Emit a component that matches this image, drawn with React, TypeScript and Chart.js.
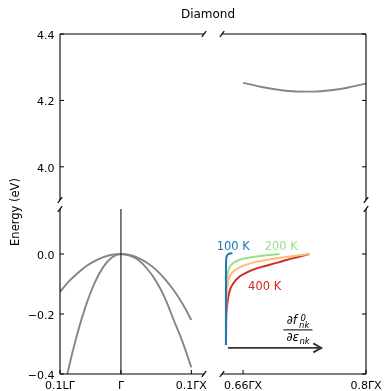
import React, { useEffect, useRef } from 'react';
import { Chart, registerables } from 'chart.js';
Chart.register(...registerables);

const W = 384;
const H = 391;
const FONT = '"DejaVu Sans", "Liberation Sans", sans-serif';

// ---------- data ----------
// valence bands near Γ (k along L–Γ–X, units of 2π/a)
const kValence = [-0.0866, -0.075, -0.0625, -0.05, -0.0375, -0.025, -0.0125, 0, 0.0125, 0.025, 0.0375, 0.05, 0.0625, 0.075, 0.0875, 0.1];
const bandHeavyE = [-0.126, -0.094, -0.066, -0.042, -0.024, -0.0105, -0.0026, 0, -0.0034, -0.0135, -0.030, -0.053, -0.084, -0.121, -0.166, -0.220];
const bandLightE = [-0.517, -0.388, -0.270, -0.173, -0.097, -0.043, -0.011, 0, -0.0055, -0.021, -0.050, -0.091, -0.147, -0.220, -0.293, -0.378];

// conduction band near the X valley
const kConduction = [0.66, 0.68, 0.70, 0.72, 0.74, 0.76, 0.78, 0.80];
const conductionE = [4.253, 4.241, 4.232, 4.227, 4.2265, 4.2305, 4.239, 4.2505];

// sketch of ∂f/∂ε at several temperatures
const k100K = [0.6405, 0.6405, 0.6406, 0.6409, 0.6416, 0.6432, 0.6455, 0.6478];
const e100K = [-0.303, -0.10, -0.03, -0.015, -0.006, 0.0, 0.002, 0.003];
const k200K = [0.6405, 0.6405, 0.6407, 0.6413, 0.6425, 0.645, 0.6507, 0.6564, 0.6639, 0.6714, 0.6865, 0.7016];
const e200K = [-0.303, -0.15, -0.113, -0.088, -0.065, -0.041, -0.027, -0.019, -0.014, -0.010, -0.004, 0.0];
const k300K = [0.6405, 0.6407, 0.6413, 0.6432, 0.647, 0.6564, 0.6677, 0.679, 0.6941, 0.7092, 0.7224, 0.7355];
const e300K = [-0.303, -0.20, -0.136, -0.091, -0.063, -0.044, -0.032, -0.024, -0.016, -0.010, -0.005, 0.0];
const k400K = [0.6405, 0.6407, 0.641, 0.6425, 0.645, 0.6495, 0.6564, 0.6639, 0.6714, 0.6808, 0.6903, 0.7003, 0.7092, 0.7224, 0.7355];
const e400K = [-0.303, -0.25, -0.20, -0.155, -0.12, -0.095, -0.074, -0.062, -0.052, -0.043, -0.036, -0.028, -0.020, -0.010, 0.0];

// ticks
const yTicksTop = [4.4, 4.2, 4.0];
const yTicksBottom = [0.0, -0.2, -0.4];
const xTicksLeft = [-0.0866, 0, 0.1];
const xTickLabelsLeft = ['0.1LΓ', 'Γ', '0.1ΓX'];
const xTicksRight = [0.66, 0.8];
const xTickLabelsRight = ['0.66ΓX', '0.8ΓX'];

const GREY = '#858585';

const toPts = (xs: number[], ys: number[]) => xs.map((x, i) => ({ x, y: ys[i] }));
const fmtY = (v: number) => v.toFixed(1).replace('-', '\u2212');

type Side = 'left' | 'right';
type VSide = 'top' | 'bottom';
type PanelCfg = {
  xMin: number; xMax: number; yMin: number; yMax: number;
  pad: { left: number; top: number; right: number; bottom: number };
  spines: { left?: boolean; right?: boolean; top?: boolean; bottom?: boolean };
  yTicks: number[]; yTickSide: Side; yLabels: boolean;
  xTicks?: number[]; xTickLabels?: string[];
  breaks: [Side, VSide][];
  gammaLine?: number;
  decorate?: (chart: any) => void;
  datasets: any[];
};

function line(ctx: CanvasRenderingContext2D, x1: number, y1: number, x2: number, y2: number) {
  ctx.beginPath();
  ctx.moveTo(x1, y1);
  ctx.lineTo(x2, y2);
  ctx.stroke();
}

function framePlugin(cfg: PanelCfg) {
  return {
    id: 'frame',
    afterDatasetsDraw(chart: any) {
      if (cfg.gammaLine === undefined) return;
      const ctx = chart.ctx as CanvasRenderingContext2D;
      const a = chart.chartArea;
      const x = chart.scales.x.getPixelForValue(cfg.gammaLine);
      ctx.save();
      ctx.strokeStyle = '#000';
      ctx.lineWidth = 1;
      line(ctx, x, a.top, x, a.bottom);
      ctx.restore();
    },
    afterDraw(chart: any) {
      const ctx = chart.ctx as CanvasRenderingContext2D;
      const a = chart.chartArea;
      const xs = chart.scales.x;
      const ys = chart.scales.y;
      ctx.save();
      ctx.strokeStyle = '#000';
      ctx.fillStyle = '#000';
      ctx.lineWidth = 1.1;
      const s = cfg.spines;
      if (s.left) line(ctx, a.left, a.top, a.left, a.bottom);
      if (s.right) line(ctx, a.right, a.top, a.right, a.bottom);
      if (s.top) line(ctx, a.left, a.top, a.right, a.top);
      if (s.bottom) line(ctx, a.left, a.bottom, a.right, a.bottom);

      const TL = 4;
      ctx.lineWidth = 1;
      cfg.yTicks.forEach((v) => {
        const y = ys.getPixelForValue(v);
        if (cfg.yTickSide === 'left') line(ctx, a.left, y, a.left + TL, y);
        else line(ctx, a.right, y, a.right - TL, y);
      });
      (cfg.xTicks || []).forEach((v) => {
        const x = xs.getPixelForValue(v);
        line(ctx, x, a.bottom, x, a.bottom - TL);
      });

      ctx.font = `11px ${FONT}`;
      if (cfg.yLabels) {
        ctx.textAlign = 'right';
        ctx.textBaseline = 'alphabetic';
        cfg.yTicks.forEach((v) => {
          const y = ys.getPixelForValue(v);
          ctx.fillText(fmtY(v), a.left - 5.5, y + 5);
        });
      }
      if (cfg.xTicks && cfg.xTickLabels) {
        ctx.textAlign = 'center';
        ctx.textBaseline = 'alphabetic';
        cfg.xTicks.forEach((v, i) => {
          const x = xs.getPixelForValue(v);
          ctx.fillText(cfg.xTickLabels![i], x, a.bottom + 14.5);
        });
      }

      ctx.lineWidth = 1.2;
      cfg.breaks.forEach(([hs, vs]) => {
        const cx = hs === 'left' ? a.left : a.right;
        const cy = vs === 'top' ? a.top : a.bottom;
        line(ctx, cx - 2.2, cy + 2.8, cx + 2.2, cy - 2.8);
      });
      ctx.restore();
      if (cfg.decorate) cfg.decorate(chart);
    },
  };
}

function decorateTitle(chart: any) {
  const ctx = chart.ctx as CanvasRenderingContext2D;
  ctx.save();
  ctx.fillStyle = '#000';
  ctx.font = `12px ${FONT}`;
  ctx.textAlign = 'center';
  ctx.textBaseline = 'alphabetic';
  ctx.fillText('Diamond', 208, 17.5);
  ctx.translate(16.5, 212);
  ctx.rotate(-Math.PI / 2);
  ctx.textBaseline = 'middle';
  ctx.font = `11.5px ${FONT}`;
  ctx.fillText('Energy (eV)', 0, 0);
  ctx.restore();
}

function decorateInset(chart: any) {
  const ctx = chart.ctx as CanvasRenderingContext2D;
  const xs = chart.scales.x;
  const ys = chart.scales.y;
  ctx.save();
  ctx.font = `11.5px ${FONT}`;
  ctx.textAlign = 'center';
  ctx.textBaseline = 'middle';
  ctx.fillStyle = '#1f77b4';
  ctx.fillText('100 K', xs.getPixelForValue(0.6488), ys.getPixelForValue(0.024));
  ctx.fillStyle = '#98df8a';
  ctx.fillText('200 K', xs.getPixelForValue(0.7035), ys.getPixelForValue(0.024));
  ctx.fillStyle = '#d62728';
  ctx.fillText('400 K', xs.getPixelForValue(0.6846), ys.getPixelForValue(-0.111));

  // arrow
  const ax1 = xs.getPixelForValue(0.6428);
  const ax2 = xs.getPixelForValue(0.7491);
  const ay = ys.getPixelForValue(-0.313);
  ctx.strokeStyle = '#333';
  ctx.lineWidth = 1.8;
  line(ctx, ax1, ay, ax2, ay);
  ctx.beginPath();
  ctx.moveTo(ax2 - 8, ay - 4.5);
  ctx.lineTo(ax2, ay);
  ctx.lineTo(ax2 - 8, ay + 4.5);
  ctx.stroke();

  // fraction ∂f⁰_nk / ∂ε_nk
  const cx = xs.getPixelForValue(0.7225);
  const by = ys.getPixelForValue(-0.253);
  const big = `italic 12px ${FONT}`;
  const small = `italic 8.5px ${FONT}`;
  ctx.fillStyle = '#000';
  ctx.strokeStyle = '#000';
  ctx.textAlign = 'left';
  ctx.textBaseline = 'alphabetic';
  ctx.font = big;
  const wNum = ctx.measureText('\u2202f').width;
  const wDen = ctx.measureText('\u2202\u03b5').width;
  ctx.font = small;
  const wNk = ctx.measureText('nk').width;
  const numW = wNum + 2 + wNk;
  const x0 = cx - numW / 2;
  ctx.font = big;
  ctx.fillText('\u2202f', x0, by - 6);
  ctx.font = small;
  ctx.fillText('0', x0 + wNum + 3.5, by - 8.5);
  ctx.fillText('nk', x0 + wNum + 2, by - 2);
  const denW = wDen + 0.5 + wNk;
  const x1 = cx - denW / 2;
  ctx.font = big;
  ctx.fillText('\u2202\u03b5', x1, by + 11.5);
  ctx.font = small;
  ctx.fillText('nk', x1 + wDen + 0.5, by + 14.5);
  ctx.lineWidth = 1;
  line(ctx, cx - 14.5, by, cx + 14.5, by);
  ctx.restore();
}

const ds = (data: any[], color: string, width: number, mono = false) => ({
  data,
  borderColor: color,
  backgroundColor: color,
  borderWidth: width,
  pointRadius: 0,
  fill: false,
  ...(mono ? { cubicInterpolationMode: 'monotone' } : { tension: 0.4 }),
});

const LEFT_RANGE = { xMin: -0.0866, xMax: 0.118 };
const RIGHT_RANGE = { xMin: 0.636, xMax: 0.8 };
const TOP_RANGE = { yMin: 3.9, yMax: 4.4 };
const BOTTOM_RANGE = { yMin: -0.4, yMax: 0.15 };

const panels: PanelCfg[] = [
  {
    ...LEFT_RANGE, ...TOP_RANGE,
    pad: { left: 60, top: 34, right: W - 204, bottom: H - 200 },
    spines: { left: true, top: true },
    yTicks: yTicksTop, yTickSide: 'left', yLabels: true,
    breaks: [['right', 'top'], ['left', 'bottom']],
    decorate: decorateTitle,
    datasets: [],
  },
  {
    ...RIGHT_RANGE, ...TOP_RANGE,
    pad: { left: 222, top: 34, right: W - 366, bottom: H - 200 },
    spines: { right: true, top: true },
    yTicks: yTicksTop, yTickSide: 'right', yLabels: false,
    breaks: [['left', 'top'], ['right', 'bottom']],
    datasets: [ds(toPts(kConduction, conductionE), GREY, 1.9, true)],
  },
  {
    ...LEFT_RANGE, ...BOTTOM_RANGE,
    pad: { left: 60, top: 209, right: W - 204, bottom: H - 374 },
    spines: { left: true, bottom: true },
    yTicks: yTicksBottom, yTickSide: 'left', yLabels: true,
    xTicks: xTicksLeft, xTickLabels: xTickLabelsLeft,
    breaks: [['left', 'top'], ['right', 'bottom']],
    gammaLine: 0,
    datasets: [
      ds(toPts(kValence, bandHeavyE), GREY, 1.9, true),
      ds(toPts(kValence, bandLightE), GREY, 1.9, true),
    ],
  },
  {
    ...RIGHT_RANGE, ...BOTTOM_RANGE,
    pad: { left: 222, top: 209, right: W - 366, bottom: H - 374 },
    spines: { right: true, bottom: true },
    yTicks: yTicksBottom, yTickSide: 'right', yLabels: false,
    xTicks: xTicksRight, xTickLabels: xTickLabelsRight,
    breaks: [['right', 'top'], ['left', 'bottom']],
    decorate: decorateInset,
    datasets: [
      ds(toPts(k100K, e100K), '#1f77b4', 2),
      ds(toPts(k200K, e200K), '#98df8a', 2),
      ds(toPts(k300K, e300K), '#ffbb78', 2),
      ds(toPts(k400K, e400K), '#d62728', 2),
    ],
  },
];

function Panel({ cfg }: { cfg: PanelCfg }) {
  const ref = useRef<HTMLCanvasElement | null>(null);
  useEffect(() => {
    if (!ref.current) return;
    const chart = new Chart(ref.current, {
      type: 'line',
      data: { datasets: cfg.datasets },
      options: {
        animation: false,
        responsive: false,
        devicePixelRatio: 1,
        layout: { padding: cfg.pad },
        plugins: { legend: { display: false }, tooltip: { enabled: false }, title: { display: false } },
        scales: {
          x: { type: 'linear', min: cfg.xMin, max: cfg.xMax, display: false },
          y: { type: 'linear', min: cfg.yMin, max: cfg.yMax, display: false },
        },
      } as any,
      plugins: [framePlugin(cfg)],
    });
    return () => chart.destroy();
  }, [cfg]);
  return (
    <canvas
      ref={ref}
      width={W}
      height={H}
      style={{ position: 'absolute', left: 0, top: 0, width: W, height: H }}
    />
  );
}

export default function App() {
  return (
    <div style={{ position: 'absolute', left: 0, top: 0, width: W, height: H, background: '#fff', overflow: 'hidden' }}>
      {panels.map((p, i) => (
        <Panel key={i} cfg={p} />
      ))}
    </div>
  );
}
